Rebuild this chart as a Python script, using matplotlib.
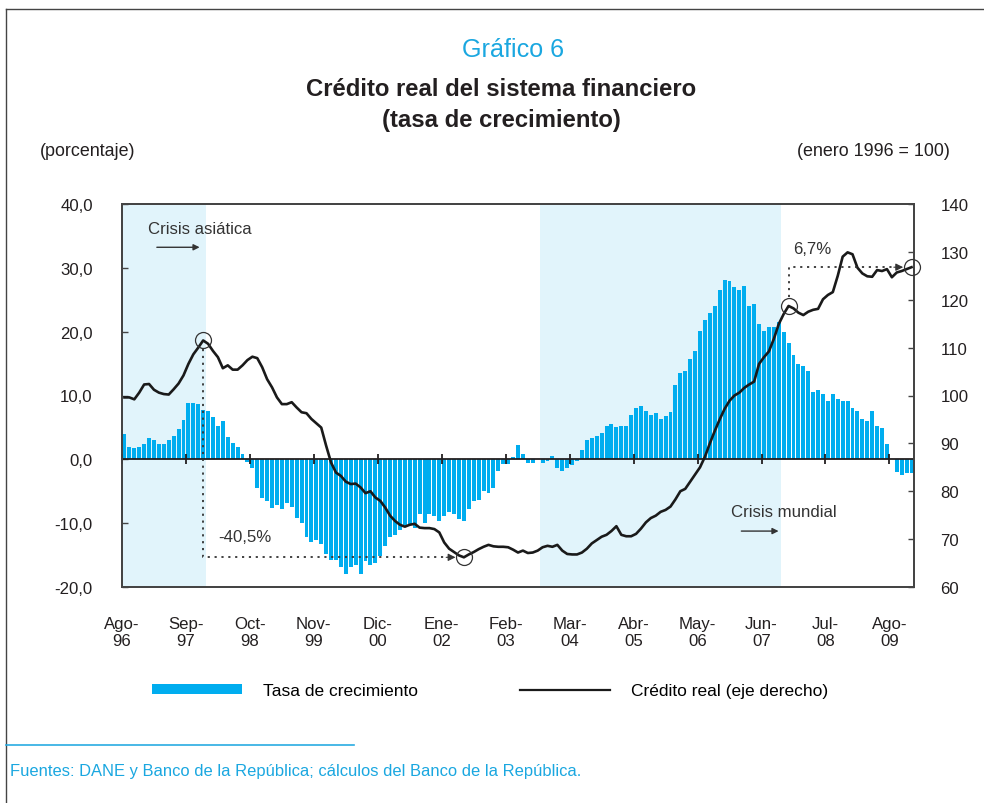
import matplotlib
matplotlib.use('Agg')
import matplotlib.pyplot as plt
from matplotlib import font_manager
from matplotlib.lines import Line2D
from matplotlib.patches import Patch
import numpy as np

# condensed look of the original; fall back to regular sans, a bit smaller
names = {f.name for f in font_manager.fontManager.ttflist}
if 'Liberation Sans Narrow' in names:
    FONT, K = 'Liberation Sans Narrow', 1.0
else:
    FONT, K = 'Liberation Sans', 0.86
plt.rcParams['font.family'] = [FONT, 'DejaVu Sans']

# monthly data, Ago-96 .. Dic-09
tasa = [3.9, 1.9, 1.7, 2.0, 2.35, 3.3, 3.1, 2.35, 2.35, 3.0, 3.6, 4.7, 6.1,
        8.9, 8.8, 8.6, 7.8, 7.5, 6.6, 5.3, 6.0, 3.45, 2.5, 2.0, 0.8, -0.4,
        -1.4, -4.5, -6.1, -6.6, -7.7, -7.1, -7.8, -6.9, -7.4, -9.2, -9.9, -12.1, -13.0,
        -12.7, -13.3, -14.9, -15.8, -15.7, -16.9, -17.9, -16.9, -16.6, -18.0, -16.0, -16.5,
        -16.3, -15.2, -13.5, -12.1, -11.9, -11.1, -10.3, -10.3, -10.7, -8.6, -9.9, -8.5,
        -8.9, -9.7, -8.9, -8.3, -8.6, -9.4, -9.6, -7.8, -6.6, -6.3, -4.9, -5.3, -4.5,
        -1.9, -0.7, -0.7, 0.3, 2.2, 0.9, -0.6, -0.6, 0.1, -0.6, -0.3, 0.5, -1.4,
        -1.9, -1.4, -0.9, -0.3, 1.4, 3.1, 3.4, 3.6, 4.2, 5.3, 5.5, 5.0, 5.3,
        5.3, 6.9, 8.0, 8.3, 7.5, 6.9, 7.2, 6.3, 6.8, 7.4, 11.6, 13.5, 13.8,
        15.7, 16.9, 20.1, 21.8, 22.9, 24.0, 26.5, 28.1, 27.9, 27.0, 26.6, 27.1, 24.0,
        24.3, 21.2, 20.1, 20.7, 20.7, 21.5, 19.9, 18.2, 16.3, 15.0, 14.6, 13.9, 10.5,
        10.8, 10.3, 9.1, 10.2, 9.4, 9.1, 9.2, 8.0, 7.5, 6.3, 6.0, 7.5, 5.3,
        4.9, 2.35, 0.1, -2.0, -2.5, -2.1, -2.1]

credito = [99.6, 99.6, 99.2, 100.6, 102.3, 102.4, 101.2, 100.6, 100.3, 100.2, 101.3, 102.5, 104.2,
           106.6, 108.6, 110.0, 111.5, 110.8, 109.3, 108.0, 105.7, 106.3, 105.4, 105.4, 106.3, 107.4,
           108.1, 107.8, 105.9, 103.4, 101.7, 99.6, 98.2, 98.2, 98.6, 97.5, 96.5, 96.3, 95.1,
           94.2, 93.3, 89.5, 86.0, 83.9, 83.2, 82.0, 81.5, 81.6, 80.8, 79.6, 80.0,
           78.7, 78.0, 76.6, 74.9, 73.8, 73.0, 72.6, 73.0, 73.2, 72.4, 72.3, 72.3,
           72.1, 71.4, 69.3, 68.0, 67.3, 66.6, 66.2, 66.8, 67.3, 67.9, 68.4, 68.8, 68.5,
           68.4, 68.4, 68.3, 67.8, 67.2, 67.6, 67.1, 67.2, 67.6, 68.3, 68.6, 68.4, 68.8,
           67.6, 66.9, 66.8, 66.8, 67.2, 68.0, 69.1, 69.8, 70.5, 70.9, 71.7, 72.7, 70.9,
           70.6, 70.6, 71.1, 72.2, 73.5, 74.4, 74.9, 75.7, 76.1, 76.8, 78.3, 80.0, 80.5,
           82.0, 83.5, 85.0, 87.2, 90.0, 92.6, 95.0, 97.2, 98.9, 100.0, 100.6, 101.6, 102.3,
           102.9, 106.6, 108.0, 109.2, 111.8, 114.9, 117.0, 118.7, 118.2, 117.3, 116.8, 117.5, 117.9,
           118.1, 120.1, 121.0, 121.6, 125.0, 129.0, 129.9, 129.5, 126.7, 125.5, 124.9, 124.8, 126.2,
           126.0, 126.4, 124.7, 125.7, 126.0, 126.4, 126.8]

tick_labels = ['Ago-\n96', 'Sep-\n97', 'Oct-\n98', 'Nov-\n99', 'Dic-\n00', 'Ene-\n02', 'Feb-\n03',
               'Mar-\n04', 'Abr-\n05', 'May-\n06', 'Jun-\n07', 'Jul-\n08', 'Ago-\n09']
left_ticks = [-20, -10, 0, 10, 20, 30, 40]
left_labels = ['-20,0', '-10,0', '0,0', '10,0', '20,0', '30,0', '40,0']
right_ticks = [60, 70, 80, 90, 100, 110, 120, 130, 140]
crisis_spans = [(0, 17), (85, 134)]  # month indexes
peak_i, trough_i, pre_i, last_i = 16, 69, 135, 160

cyan = '#00ADEF'
shade = '#E1F4FB'
ink = '#231F20'
frame = '#444444'

fig = plt.figure(figsize=(9.84, 8.04), dpi=100)
ax = fig.add_axes([122 / 984, 1 - 588 / 804, 792 / 984, 383 / 804])
ax2 = ax.twinx()

x = np.arange(len(tasa)) + 0.5
tick_pos = np.arange(len(tick_labels)) * 13

for a, b in crisis_spans:
    ax.axvspan(a, b, color=shade, lw=0, zorder=0)
ax.bar(x, tasa, width=0.8, color=cyan, lw=0, zorder=2)
ax.axhline(0, color=ink, lw=1.3, zorder=3)
ax.plot(tick_pos, np.zeros(len(tick_pos)), ls='none', marker='|', ms=7, mew=1.3,
        color=ink, zorder=3, clip_on=False)

ax.set_xlim(0, len(tasa))
ax.set_ylim(-20, 40)
ax.set_yticks(left_ticks)
ax.set_yticklabels(left_labels)
ax.set_xticks(tick_pos)
ax.set_xticklabels(tick_labels, linespacing=1.15)
ax.tick_params(axis='x', length=0, pad=21, labelsize=14 * K, colors=ink)
ax.tick_params(axis='y', direction='in', length=4, width=1, pad=21,
               labelsize=14 * K, colors=ink, color=frame)

ax2.plot(x, credito, color='#1a1a1a', lw=1.9, zorder=4)
ax2.set_ylim(60, 140)
ax2.set_yticks(right_ticks)
ax2.tick_params(axis='y', direction='in', length=4, width=1, pad=19,
                labelsize=14 * K, colors=ink, color=frame)

for a_ in (ax, ax2):
    for s in a_.spines.values():
        s.set_color(frame)
        s.set_linewidth(1.3)

# annotations: peak-to-trough and pre-crisis-to-last
dot = (0, (1.2, 2.6))
px, py = x[peak_i], credito[peak_i]
tx, ty = x[trough_i], credito[trough_i]
qx, qy = x[pre_i], credito[pre_i]
lx, ly = x[last_i], credito[last_i]
ax2.plot([px, tx, qx, lx], [py, ty, qy, ly], ls='none', marker='o', ms=11.5,
         mfc='none', mec='#333333', mew=0.9, zorder=5, clip_on=False)
ax2.plot([px, px, tx - 3.0], [py - 1.8, ty, ty], ls=dot, color='#333333', lw=1.3, zorder=5)
ax2.plot([qx, qx, lx - 3.0], [qy + 1.8, ly, ly], ls=dot, color='#333333', lw=1.3, zorder=5)
for ex, ey in ((tx, ty), (lx, ly)):
    ax2.annotate('', xy=(ex - 1.7, ey), xytext=(ex - 3.6, ey),
                 arrowprops=dict(arrowstyle='-|>', color='#333333', lw=0.8, mutation_scale=11,
                                 shrinkA=0, shrinkB=0), zorder=5)

ax.text(0.155, 0.133, '-40,5%', transform=ax.transAxes, ha='center', va='center',
        fontsize=14 * K, color='#333333')
ax.text(0.872, 0.884, '6,7%', transform=ax.transAxes, ha='center', va='center',
        fontsize=14 * K, color='#333333')
ax.text(0.098, 0.937, 'Crisis asiática', transform=ax.transAxes, ha='center', va='center',
        fontsize=14 * K, color='#333333')
ax.annotate('', xy=(0.098, 0.887), xytext=(0.044, 0.887), xycoords='axes fraction',
            arrowprops=dict(arrowstyle='-|>', color='#333333', lw=1, mutation_scale=9,
                            shrinkA=0, shrinkB=0))
ax.text(0.836, 0.198, 'Crisis mundial', transform=ax.transAxes, ha='center', va='center',
        fontsize=14 * K, color='#333333')
ax.annotate('', xy=(0.829, 0.146), xytext=(0.782, 0.146), xycoords='axes fraction',
            arrowprops=dict(arrowstyle='-|>', color='#333333', lw=1, mutation_scale=9,
                            shrinkA=0, shrinkB=0))

# titles
fig.text(513 / 984, 1 - 50 / 804, 'Gráfico 6', ha='center', va='center',
         fontsize=21 * K, color='#1AA7E0')
fig.text(501 / 984, 1 - 90 / 804, 'Crédito real del sistema financiero',
         ha='center', va='center', fontsize=20 * K, fontweight='bold', color=ink)
fig.text(501 / 984, 1 - 121 / 804, '(tasa de crecimiento)',
         ha='center', va='center', fontsize=20 * K, fontweight='bold', color=ink)
fig.text(40 / 984, 1 - 152 / 804, '(porcentaje)', ha='left', va='center',
         fontsize=15 * K, color=ink)
fig.text(950 / 984, 1 - 152 / 804, '(enero 1996 = 100)', ha='right', va='center',
         fontsize=15 * K, color=ink)

handles = [Patch(facecolor=cyan, edgecolor='none'), Line2D([], [], color='#1a1a1a', lw=1.6)]
fig.legend(handles, ['Tasa de crecimiento', 'Crédito real (eje derecho)'], loc='center',
           bbox_to_anchor=(490 / 984, 1 - 692 / 804), ncol=2, frameon=False,
           handlelength=5.2, handleheight=0.5, handletextpad=1.2,
           columnspacing=5.9, prop={'size': 14.5 * K})

# frame and source note
fig.add_artist(Line2D([6 / 984, 1], [1 - 10 / 804] * 2, transform=fig.transFigure,
                      color=frame, lw=1))
fig.add_artist(Line2D([6 / 984] * 2, [0, 1 - 10 / 804], transform=fig.transFigure,
                      color=frame, lw=1))
fig.add_artist(Line2D([6 / 984, 354 / 984], [1 - 746 / 804] * 2, transform=fig.transFigure,
                      color='#29ABE2', lw=1.2))
fig.text(10 / 984, 1 - 772 / 804,
         'Fuentes: DANE y Banco de la República; cálculos del Banco de la República.',
         ha='left', va='center', fontsize=13.8 * K, color='#1AA7E0')

fig.savefig('out.png', dpi=100)
